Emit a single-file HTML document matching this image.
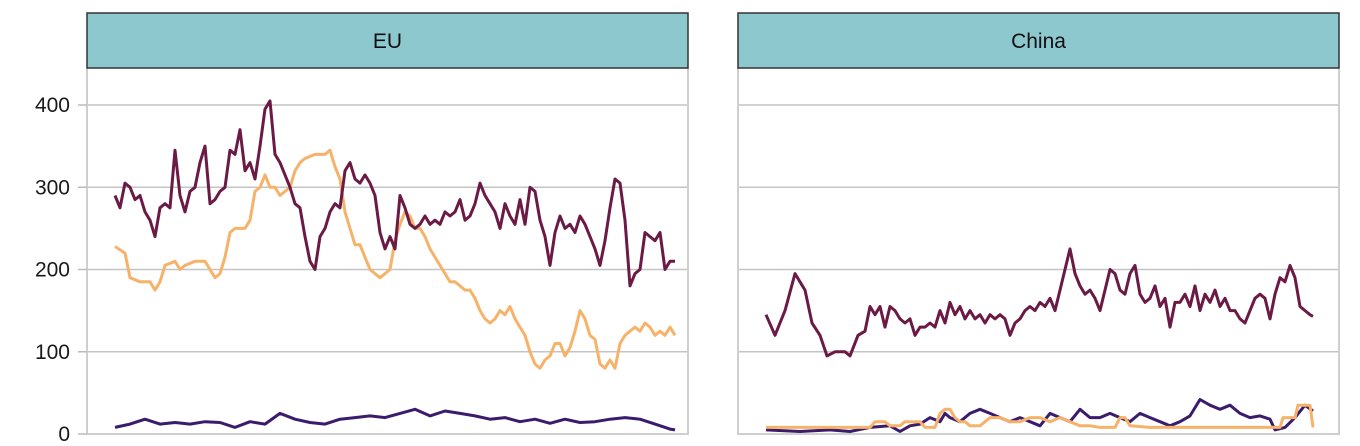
<!DOCTYPE html>
<html><head><meta charset="utf-8"><style>
html,body{margin:0;padding:0;background:#fff;}
svg{display:block;font-family:"Liberation Sans",Arial,sans-serif;}
</style></head><body>
<svg id="chart" width="1360" height="446"></svg>
<script>
const yTicks=[0,100,200,300,400];
const panelNames=["EU","China"];
// pairs [period, value]
const euMaroon=[[0,290],[5,275],[10,305],[15,300],[20,285],[25,290],[30,270],[35,260],[40,240],[45,275],[50,280],[55,275],[60,345],[65,290],[70,270],[75,295],[80,300],[85,330],[90,350],[95,280],[100,285],[105,295],[110,300],[115,345],[120,340],[125,370],[130,320],[135,330],[140,310],[145,350],[150,395],[155,405],[160,340],[165,330],[170,315],[175,300],[180,280],[185,275],[190,240],[195,210],[200,200],[205,240],[210,250],[215,270],[220,280],[225,275],[230,320],[235,330],[240,310],[245,305],[250,315],[255,305],[260,290],[265,245],[270,225],[275,240],[280,225],[285,290],[290,275],[295,255],[300,250],[305,255],[310,265],[315,255],[320,260],[325,255],[330,270],[335,265],[340,270],[345,285],[350,260],[355,265],[360,280],[365,305],[370,290],[375,280],[380,270],[385,250],[390,280],[395,265],[400,255],[405,285],[410,255],[415,300],[420,295],[425,260],[430,240],[435,205],[440,245],[445,265],[450,250],[455,255],[460,245],[465,265],[470,255],[475,240],[480,225],[485,205],[490,235],[495,275],[500,310],[505,305],[510,260],[515,180],[520,195],[525,200],[530,245],[535,240],[540,235],[545,245],[550,200],[555,210],[560,210]];
const euOrange=[[0,228],[10,220],[15,190],[25,185],[35,185],[40,175],[45,185],[50,205],[60,210],[65,200],[70,205],[80,210],[90,210],[95,200],[100,190],[105,195],[110,215],[115,245],[120,250],[130,250],[135,260],[140,295],[145,300],[150,315],[155,300],[160,300],[165,290],[170,295],[175,300],[180,320],[185,330],[190,335],[200,340],[210,340],[215,345],[220,325],[225,310],[230,270],[235,250],[240,230],[245,230],[250,215],[255,200],[260,195],[265,190],[270,195],[275,200],[280,235],[285,255],[290,270],[295,265],[300,250],[305,250],[310,240],[315,225],[320,215],[325,205],[330,195],[335,185],[340,185],[345,180],[350,175],[355,175],[360,165],[365,150],[370,140],[375,135],[380,140],[385,150],[390,145],[395,155],[400,140],[405,130],[410,120],[415,100],[420,85],[425,80],[430,90],[435,95],[440,110],[445,110],[450,95],[455,105],[460,125],[465,150],[470,140],[475,120],[480,115],[485,85],[490,80],[495,90],[500,80],[505,110],[510,120],[515,125],[520,130],[525,125],[530,135],[535,130],[540,120],[545,125],[550,120],[555,130],[560,120]];
const euNavy=[[0,8],[15,12],[30,18],[45,12],[60,14],[75,12],[90,15],[105,14],[120,8],[135,15],[150,12],[165,25],[180,18],[195,14],[210,12],[225,18],[240,20],[255,22],[270,20],[285,25],[300,30],[315,22],[330,28],[345,25],[360,22],[375,18],[390,20],[405,15],[420,18],[435,13],[450,18],[465,14],[480,15],[495,18],[510,20],[525,18],[540,12],[555,6],[560,5]];
const cnMaroon=[[0,145],[9,120],[19,150],[29,195],[34,185],[39,175],[46,135],[54,120],[61,95],[69,100],[79,100],[84,95],[92,120],[99,125],[104,155],[109,145],[114,155],[119,130],[124,155],[129,150],[134,140],[139,135],[144,140],[149,120],[154,130],[159,130],[164,135],[169,130],[174,150],[179,135],[184,160],[189,145],[194,155],[199,140],[204,150],[209,140],[214,145],[219,135],[224,145],[229,140],[234,145],[239,140],[244,120],[249,135],[254,140],[259,150],[264,155],[269,150],[274,160],[279,155],[284,165],[289,150],[294,175],[299,200],[304,225],[309,195],[314,180],[319,170],[324,175],[329,165],[334,150],[339,175],[344,200],[349,195],[354,175],[359,170],[364,195],[369,205],[374,170],[379,160],[384,165],[389,180],[394,155],[399,165],[404,130],[409,160],[414,160],[419,170],[424,155],[429,180],[434,150],[439,170],[444,160],[449,175],[454,155],[459,165],[464,150],[469,150],[474,140],[479,135],[484,150],[489,165],[494,170],[499,165],[504,140],[509,170],[514,190],[519,185],[524,205],[529,190],[534,155],[539,150],[544,145],[547,143]];
const cnNavy=[[0,5],[34,3],[64,5],[84,3],[104,8],[124,10],[134,3],[144,10],[154,12],[164,20],[174,15],[179,25],[184,20],[194,15],[204,25],[214,30],[224,25],[234,20],[244,15],[254,20],[264,15],[274,10],[284,25],[294,20],[304,15],[314,30],[324,20],[334,20],[344,25],[354,20],[364,15],[374,25],[384,20],[394,15],[404,10],[414,15],[424,22],[434,42],[444,35],[454,30],[464,35],[474,25],[484,20],[494,22],[504,18],[509,5],[519,8],[529,20],[539,35],[547,28]];
const cnOrange=[[0,8],[104,8],[109,15],[119,15],[124,10],[134,10],[139,15],[154,15],[159,8],[169,8],[174,25],[179,30],[184,30],[189,20],[194,15],[199,15],[204,10],[214,10],[224,20],[234,20],[244,15],[254,15],[264,20],[274,20],[284,15],[294,20],[304,15],[314,10],[324,10],[334,8],[349,8],[354,20],[359,20],[364,10],[384,8],[514,8],[517,20],[529,20],[532,35],[544,35],[547,8]];

const NS='http://www.w3.org/2000/svg';
const svg=document.getElementById('chart');
function mk(tag,attrs,parent){const e=document.createElementNS(NS,tag);for(const k in attrs)e.setAttribute(k,attrs[k]);(parent||svg).appendChild(e);return e;}
const y=v=>434-v*0.8225;
const panels=[
 {x0:87,x1:688,d0:115,span:563,series:[[euOrange,'#f7b26a'],[euNavy,'#3b1b6b'],[euMaroon,'#6b1a45']]},
 {x0:738,x1:1339,d0:766,span:547,series:[[cnNavy,'#3b1b6b'],[cnOrange,'#f7b26a'],[cnMaroon,'#6b1a45']]}
];
panels.forEach((p,i)=>{
 const g=mk('g',{});
 
 
 yTicks.forEach(t=>{ if(t>0){const l=mk('line',{x1:p.x0,x2:p.x1,y1:y(t),y2:y(t),stroke:'#c4c4c4','stroke-width':1.5},g);
  
  }});
 const fr=mk('path',{d:`M${p.x0},68V434H${p.x1}V68`,fill:'none',stroke:'#cfcfcf','stroke-width':2},g);
 
 
 const hd=mk('rect',{x:p.x0,y:13,width:p.x1-p.x0,height:55,fill:'#8ec8cf',stroke:'#333','stroke-width':1.5},g);
 
 
 const ht=mk('text',{x:(p.x0+p.x1)/2,y:48,'text-anchor':'middle','font-size':21,fill:'#111'},g);
 ht.textContent=panelNames[i];
 
 
 p.series.forEach(([data,col])=>{
  const xs=t=>p.x0+(p.d0-p.x0)+t/p.span*p.span;
  const pts=data.map(([t,v])=>xs(t).toFixed(1)+','+y(v).toFixed(1)).join(' ');
  const pl=mk('polyline',{points:pts,fill:'none',stroke:col,'stroke-width':3,'stroke-linejoin':'round'},g);
  
  
 });
});
yTicks.forEach(t=>{
 const tk=mk('line',{x1:78,x2:87,y1:y(t),y2:y(t),stroke:'#bbb','stroke-width':1.5});
 
 
 const tx=mk('text',{x:70,y:y(t)+7,'text-anchor':'end','font-size':21,fill:'#1a1a1a'});
 tx.textContent=t;
 
 
});
</script>
</body></html>
